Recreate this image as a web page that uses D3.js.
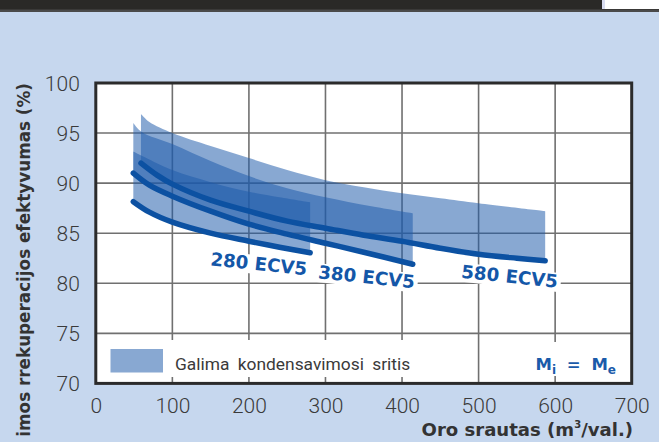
<!DOCTYPE html>
<html><head><meta charset="utf-8">
<script src="https://cdn.jsdelivr.net/npm/d3@7"></script>
<style>body{margin:0;background:#C6D7EE;} svg{display:block}</style>
</head><body><svg id="c" width="659" height="442"></svg>
<script>
// ---------- data ----------
const xTicks = [0, 100, 200, 300, 400, 500, 600, 700];
const yTicks = [70, 75, 80, 85, 90, 95, 100];
const models = ["280 ECV5", "380 ECV5", "580 ECV5"];

// efficiency curves [airflow m3/h, efficiency %]
const curve280 = [[49,88.15],[70,87.1],[100,86.1],[150,85.0],[200,84.2],[240,83.6],[280,83.05]];
const curve380 = [[49,91.0],[70,89.8],[100,88.7],[150,87.2],[200,85.9],[250,84.9],[300,84.0],[350,83.1],[414,81.9]];
const curve580 = [[59,92.0],[80,90.8],[100,89.9],[150,88.3],[200,87.2],[250,86.2],[300,85.5],[350,84.8],[400,84.2],[450,83.5],[500,82.9],[550,82.5],[587,82.25]];

// upper limits of the possible-condensation regions
const top280 = [[49,93.15],[100,91.3],[150,90.1],[200,89.15],[240,88.6],[280,88.1]];
const top380 = [[49,96.0],[60,95.1],[100,93.9],[150,92.2],[200,90.7],[250,89.5],[300,88.6],[360,87.7],[414,87.0]];
const top580 = [[59,96.9],[70,96.1],[100,95.0],[150,93.7],[200,92.5],[250,91.3],[300,90.3],[350,89.6],[400,89.0],[450,88.5],[500,88.0],[587,87.2]];

const curves = [curve280, curve380, curve580];
const tops = [top280, top380, top580];
// label anchor (data units) for each model name
const labelAt = [[212, 81.3], [352.8, 80.0], [539.7, 80.05]];

const legendText = "Galima kondensavimosi sritis";
const xTitle = ["Oro srautas (m", "3", "/val.)"];
const yTitle = "imos rrekuperacijos efektyvumas (%)";

// ---------- drawing ----------
const svg = d3.select("#c");
const W = 659, H = 442;
const x = d3.scaleLinear().domain([0, 700]).range([95.8, 631.7]);
const y = d3.scaleLinear().domain([70, 100]).range([383.4, 83]);

const BAND = "rgb(30,90,170)", BAND_OP = 0.53, CURVE = "#0C51A2", LBL = "#1457A8";

svg.append("rect").attr("width", W).attr("height", H).attr("fill", "#C6D7EE");
// top strip
svg.append("rect").attr("x", 0).attr("y", 0).attr("width", W).attr("height", 11).attr("fill", "#2A2927");
svg.append("rect").attr("x", 602).attr("y", 0).attr("width", 3).attr("height", 9).attr("fill", "#D8DCF0");
svg.append("rect").attr("x", 605).attr("y", 0).attr("width", 54).attr("height", 9).attr("fill", "#FFFFFF");
svg.append("rect").attr("x", 0).attr("y", 9.5).attr("width", W).attr("height", 2.5).attr("fill", "#4A4A4A");

// plot background
svg.append("rect").attr("x", x(0)).attr("y", y(100)).attr("width", x(700) - x(0)).attr("height", y(70) - y(100)).attr("fill", "#fff");

// grid
const g = svg.append("g").attr("stroke", "#707070").attr("stroke-width", 1.6);
xTicks.slice(1, -1).forEach(t => g.append("line").attr("x1", x(t)).attr("x2", x(t)).attr("y1", y(70)).attr("y2", y(100)));
yTicks.slice(1, -1).forEach(t => g.append("line").attr("y1", y(t)).attr("y2", y(t)).attr("x1", x(0)).attr("x2", x(700)));

// legend background boxes (cover grid)
svg.append("rect").attr("x", x(0)).attr("y", 340).attr("width", x(465) - x(0)).attr("height", 37).attr("fill", "#fff");
svg.append("rect").attr("x", x(560)).attr("y", 342).attr("width", x(700) - x(560)).attr("height", 34).attr("fill", "#fff");

// model labels with white backing
const lg = svg.append("g");
models.forEach((m, i) => {
  const cx = x(labelAt[i][0]), cy = y(labelAt[i][1]);
  const grp = lg.append("g").attr("transform", `translate(${cx},${cy}) rotate(6)`);
  const t = grp.append("text").attr("text-anchor", "middle").attr("font-family", "DejaVu Sans")
    .attr("font-weight", "bold").attr("font-size", 18).attr("fill", LBL).text(m);
  const L = t.node().getComputedTextLength();
  t.attr("font-size", 18 * 97 / L);
  const bb = t.node().getBBox();
  grp.insert("rect", "text").attr("x", bb.x - 3).attr("y", bb.y + 2).attr("width", bb.width + 6).attr("height", bb.height - 2).attr("fill", "#fff");
});

// bands
const line = d3.line().x(d => x(d[0])).y(d => y(d[1])).curve(d3.curveCatmullRom.alpha(0.5));
tops.forEach((tp, i) => {
  const bot = curves[i].slice().reverse();
  const d = line(tp) + line(bot).replace(/^M/, "L") + "Z";
  svg.append("path").attr("d", d).attr("fill", BAND).attr("fill-opacity", BAND_OP);
});

// curves
curves.forEach(c => {
  svg.append("path").attr("d", line(c)).attr("fill", "none").attr("stroke", CURVE)
    .attr("stroke-width", 5.5).attr("stroke-linecap", "round");
});

// frame
svg.append("rect").attr("x", x(0)).attr("y", y(100)).attr("width", x(700) - x(0)).attr("height", y(70) - y(100))
  .attr("fill", "none").attr("stroke", "#2B2B2B").attr("stroke-width", 3);

// axes (labels only)
const tickFont = "Roboto";
const ax = svg.append("g").attr("transform", `translate(0,${y(70) + 12})`)
  .call(d3.axisBottom(x).tickValues(xTicks).tickSize(0).tickFormat(d3.format("d")));
const ay = svg.append("g").attr("transform", `translate(${x(0) - 13},0)`)
  .call(d3.axisLeft(y).tickValues(yTicks).tickSize(0).tickFormat(d3.format("d")));
[ax, ay].forEach(a => {
  a.select(".domain").remove();
  a.selectAll("text").attr("font-family", tickFont).attr("font-weight", 300).attr("font-size", 21).attr("fill", "#3A3A3A");
});
ay.selectAll("text").attr("dy", "0.36em");

// legend
svg.append("rect").attr("x", 110.5).attr("y", 349).attr("width", 52.5).attr("height", 23.5)
  .attr("fill", BAND).attr("fill-opacity", BAND_OP);
const lt = svg.append("text").attr("x", 175).attr("y", 370).attr("font-family", tickFont)
  .attr("font-size", 16).attr("word-spacing", 4).attr("fill", "#3A3A3A").text(legendText);
{ const L = lt.node().getComputedTextLength(); lt.attr("font-size", 16 * 236 / L); }

const mt = svg.append("text").attr("x", 616).attr("y", 370).attr("text-anchor", "end")
  .attr("font-family", "DejaVu Sans").attr("font-weight", "bold").attr("font-size", 16.5)
  .attr("word-spacing", 5).attr("fill", "#1A5BAA");
mt.append("tspan").text("M");
mt.append("tspan").attr("font-size", 12).attr("dy", 4).text("i");
mt.append("tspan").attr("dy", -4).text(" = M");
mt.append("tspan").attr("font-size", 12).attr("dy", 4).text("e");

// axis titles
const xt = svg.append("text").attr("x", 633).attr("y", 436).attr("text-anchor", "end")
  .attr("font-family", "DejaVu Sans").attr("font-weight", "bold").attr("font-size", 17).attr("fill", "#333");
xt.append("tspan").text(xTitle[0]);
xt.append("tspan").attr("font-size", 10).attr("dy", -8).text(xTitle[1]);
xt.append("tspan").attr("dy", 8).text(xTitle[2]);
{ const L = xt.node().getComputedTextLength(); const f = 17 * 212 / L; xt.attr("font-size", f); }

const yt = svg.append("text").attr("transform", "translate(30,83) rotate(-90)").attr("text-anchor", "end")
  .attr("font-family", "DejaVu Sans").attr("font-weight", "bold").attr("font-size", 17).attr("fill", "#333").text(yTitle);
{ const L = yt.node().getComputedTextLength(); yt.attr("font-size", 17 * 354 / L); }
</script></body></html>
